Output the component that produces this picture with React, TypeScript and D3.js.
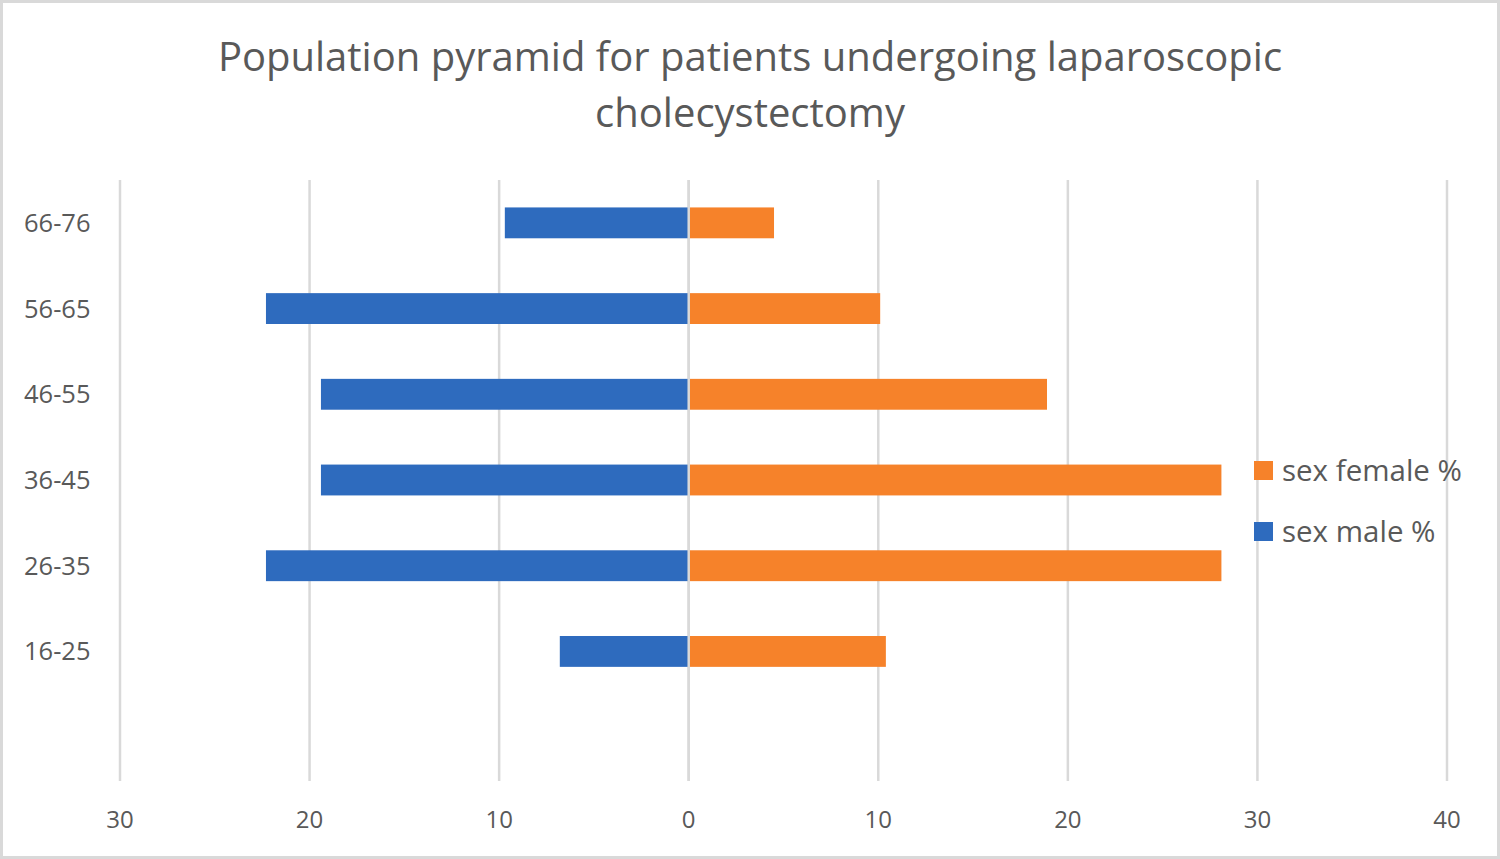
import { useEffect, useRef } from "react";
import * as d3 from "d3";

const ageGroups = ["66-76", "56-65", "46-55", "36-45", "26-35", "16-25", ""];
const malePct = [9.7, 22.3, 19.4, 19.4, 22.3, 6.8, 0];
const femalePct = [4.5, 10.1, 18.9, 28.1, 28.1, 10.4, 0];
const xTicks = [-30, -20, -10, 0, 10, 20, 30, 40];
const seriesNames = ["sex female %", "sex male %"];

const W = 1500;
const H = 859;
const BLUE = "#2e6bbe";
const ORANGE = "#f6822a";
const GRID = "#d9d9d9";
const TEXT = "#595959";
const FONT = "'Open Sans', 'Noto Sans', sans-serif";

export default function App() {
  const ref = useRef<SVGSVGElement>(null);

  useEffect(() => {
    document.body.style.margin = "0";
    const svg = d3.select(ref.current);
    svg.selectAll("*").remove();

    const x = d3.scaleLinear().domain([-30, 40]).range([120, 1447]);
    const y = d3
      .scaleBand()
      .domain(ageGroups)
      .range([180, 780])
      .paddingInner(0.64)
      .paddingOuter(0.32);

    svg
      .append("rect")
      .attr("x", 1.5)
      .attr("y", 1.5)
      .attr("width", W - 3)
      .attr("height", H - 3)
      .attr("fill", "#fff")
      .attr("stroke", GRID)
      .attr("stroke-width", 3);

    // title
    const title = svg
      .append("text")
      .attr("text-anchor", "middle")
      .attr("font-family", FONT)
      .attr("font-size", 40)
      .attr("fill", TEXT);
    title.append("tspan").attr("x", 750).attr("y", 71).text("Population pyramid for patients undergoing laparoscopic");
    title.append("tspan").attr("x", 750).attr("y", 127).text("cholecystectomy");

    // gridlines
    svg
      .append("g")
      .selectAll("line")
      .data(xTicks)
      .join("line")
      .attr("x1", (d) => x(d))
      .attr("x2", (d) => x(d))
      .attr("y1", 180)
      .attr("y2", 781)
      .attr("stroke", GRID)
      .attr("stroke-width", 2.5);

    // bars
    const rows = ageGroups.map((g, i) => ({ g, m: malePct[i], f: femalePct[i] }));
    svg
      .append("g")
      .selectAll("rect")
      .data(rows.filter((r) => r.m > 0))
      .join("rect")
      .attr("x", (d) => x(-d.m))
      .attr("y", (d) => y(d.g))
      .attr("width", (d) => x(0) - x(-d.m))
      .attr("height", y.bandwidth())
      .attr("fill", BLUE);
    svg
      .append("g")
      .selectAll("rect")
      .data(rows.filter((r) => r.f > 0))
      .join("rect")
      .attr("x", x(0))
      .attr("y", (d) => y(d.g))
      .attr("width", (d) => x(d.f) - x(0))
      .attr("height", y.bandwidth())
      .attr("fill", ORANGE);

    // zero line on top
    svg
      .append("line")
      .attr("x1", x(0))
      .attr("x2", x(0))
      .attr("y1", 180)
      .attr("y2", 781)
      .attr("stroke", GRID)
      .attr("stroke-width", 2.5);

    // x tick labels
    svg
      .append("g")
      .selectAll("text")
      .data(xTicks)
      .join("text")
      .attr("x", (d) => x(d))
      .attr("y", 828)
      .attr("text-anchor", "middle")
      .attr("font-family", FONT)
      .attr("font-size", 24)
      .attr("fill", TEXT)
      .text((d) => String(Math.abs(d)));

    // category labels
    svg
      .append("g")
      .selectAll("text")
      .data(ageGroups.filter((g) => g !== ""))
      .join("text")
      .attr("x", 24)
      .attr("y", (d) => (y(d) as number) + y.bandwidth() / 2 + 9)
      .attr("font-family", FONT)
      .attr("font-size", 25.5)
      .attr("fill", TEXT)
      .text((d) => d);

    // legend
    const legend = svg
      .append("g")
      .selectAll("g")
      .data(seriesNames)
      .join("g")
      .attr("transform", (_, i) => `translate(1254,${461 + i * 61})`);
    legend
      .append("rect")
      .attr("width", 19)
      .attr("height", 19)
      .attr("fill", (_, i) => (i === 0 ? ORANGE : BLUE));
    legend
      .append("text")
      .attr("x", 28)
      .attr("y", 20)
      .attr("font-family", FONT)
      .attr("font-size", 29.5)
      .attr("fill", TEXT)
      .text((d) => d);
  }, []);

  return <svg ref={ref} width={W} height={H} style={{ display: "block" }} />;
}
